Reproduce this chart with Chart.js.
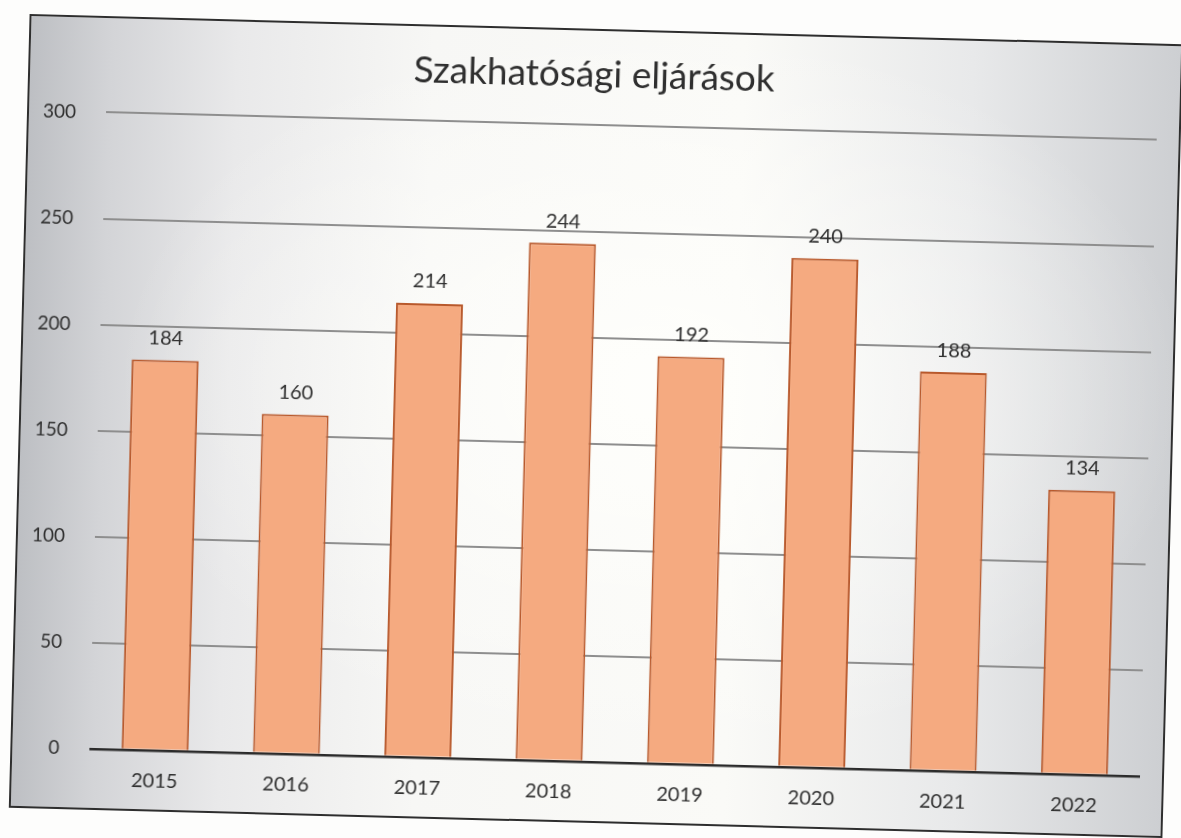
<!DOCTYPE html>
<html lang="hu">
<head>
<meta charset="utf-8">
<title>Szakhatósági eljárások</title>
<script src="https://cdn.jsdelivr.net/npm/chart.js@4.4.1/dist/chart.umd.min.js"></script>
<style>
    html, body {
        margin: 0;
        padding: 0;
        width: 1181px;
        height: 838px;
        overflow: hidden;
        background: #fdfdfc;
    }
    .frame {
        position: absolute;
        left: 21px;
        top: 31px;
        width: 1150px;
        height: 790px;
        transform: rotate(1.5deg);
        outline: 2px solid #2e2e2e;
        background:
            radial-gradient(ellipse at 55% 45%, rgba(255,255,252,0.9) 0%, rgba(255,255,252,0) 60%),
            linear-gradient(90deg, #bdbfc3 0%, #d3d4d7 7%, #e9e9ea 18%, #f7f7f5 35%, #fafaf7 62%, #e8e9ea 82%, #cdcfd2 100%);
    }
    .frame canvas {
        position: absolute;
        left: 0;
        top: 0;
    }
</style>
</head>
<body>
<div class="frame">
    <canvas id="chart" width="1150" height="790"></canvas>
</div>
<script>
const years = ['2015', '2016', '2017', '2018', '2019', '2020', '2021', '2022'];
const procedures = [184, 160, 214, 244, 192, 240, 188, 134];
const yTicks = [0, 50, 100, 150, 200, 250, 300];

const textColor = '#2f2f2f';
const fontFamily = 'Lato, "Open Sans", sans-serif';

// value labels above every bar
const barValues = {
    id: 'barValues',
    afterDatasetsDraw(chart) {
        const { ctx } = chart;
        const meta = chart.getDatasetMeta(0);
        ctx.save();
        ctx.font = '20px ' + fontFamily;
        ctx.fillStyle = textColor;
        ctx.textAlign = 'center';
        ctx.textBaseline = 'middle';
        meta.data.forEach((bar, i) => {
            ctx.fillText(String(procedures[i]), bar.x, bar.y - 22);
        });
        ctx.restore();
    },
};

const initChart = () => {
    const canvas = document.getElementById('chart');
    if (!canvas) {
        return;
    }

    new Chart(canvas, {
        type: 'bar',
        data: {
            labels: years,
            datasets: [
                {
                    label: 'Szakhatósági eljárások',
                    data: procedures,
                    backgroundColor: '#f5aa80',
                    borderColor: '#b8592c',
                    borderWidth: 2,
                    barPercentage: 0.51,
                    categoryPercentage: 1,
                },
            ],
        },
        options: {
            responsive: false,
            animation: false,
            layout: { padding: { left: 0, right: 22, top: 0, bottom: 0 } },
            plugins: {
                legend: { display: false },
                tooltip: { enabled: false },
                title: {
                    display: true,
                    text: 'Szakhatósági eljárások',
                    color: textColor,
                    font: { family: fontFamily, size: 37, weight: 'normal' },
                    padding: { top: 22, bottom: 28 },
                },
            },
            scales: {
                x: {
                    grid: { display: false, drawTicks: false },
                    border: { display: false },
                    ticks: { color: textColor, font: { family: fontFamily, size: 20 }, padding: 19 },
                    afterFit: (scale) => { scale.height = 59; },
                },
                y: {
                    min: 0,
                    max: 300,
                    afterBuildTicks: (scale) => {
                        scale.ticks = yTicks.map((v) => ({ value: v }));
                    },
                    grid: {
                        drawTicks: false,
                        lineWidth: (c) => (c.tick && c.tick.value === 0 ? 2.5 : 2),
                        color: (c) => (c.tick && c.tick.value === 0 ? '#2b2b2b' : '#8e8e8e'),
                    },
                    border: { display: false },
                    ticks: { color: textColor, font: { family: fontFamily, size: 19 }, padding: 30 },
                    afterFit: (scale) => { scale.width = 77; },
                },
            },
        },
        plugins: [barValues],
    });
};

if (document.readyState === 'loading') {
    document.addEventListener('DOMContentLoaded', initChart, { once: true });
} else {
    initChart();
}
</script>
</body>
</html>
